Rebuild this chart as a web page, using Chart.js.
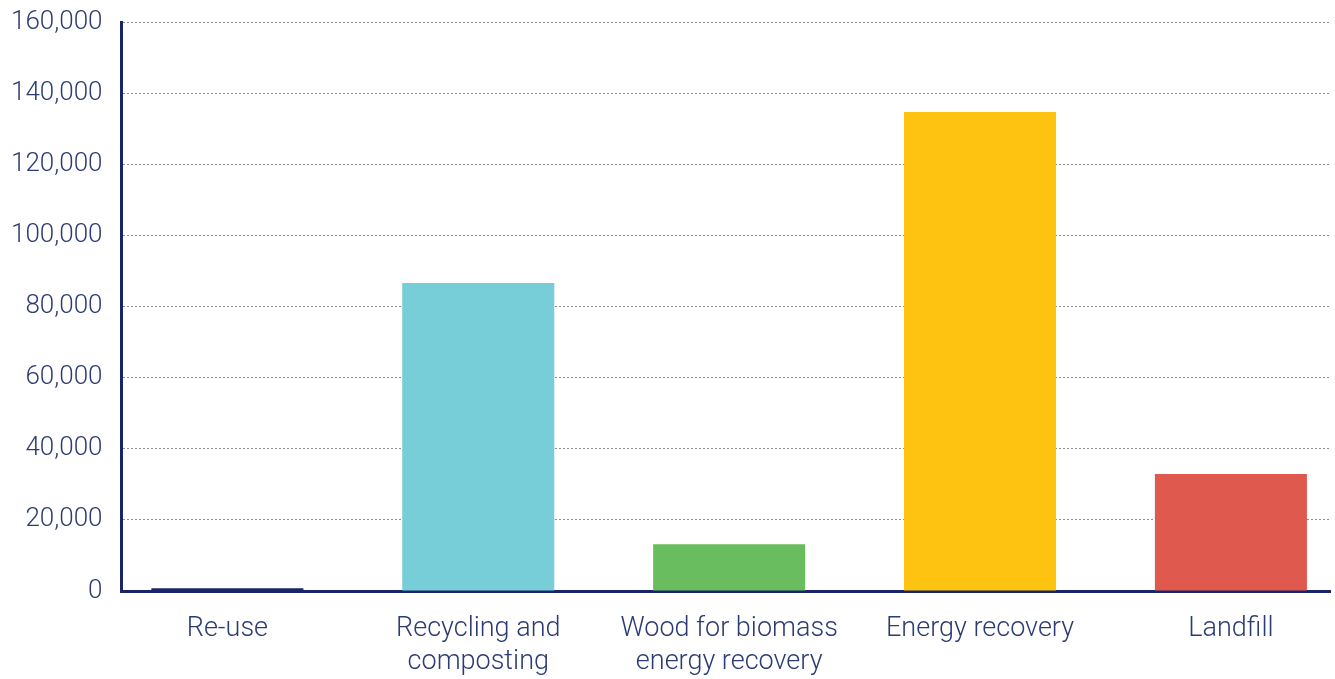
<!DOCTYPE html>
<html>
<head>
<meta charset="utf-8">
<script src="https://cdn.jsdelivr.net/npm/chart.js@4"></script>
<style>
html,body{margin:0;padding:0;background:#fff;}
#wrap{width:1335px;height:679px;}
</style>
</head>
<body>
<div id="wrap"><canvas id="c" width="1335" height="679"></canvas></div>
<script>
const categories = [["Re-use"], ["Recycling and", "composting"], ["Wood for biomass", "energy recovery"], ["Energy recovery"], ["Landfill"]];
const values = [800, 86600, 13200, 134700, 32900];
const barColors = ["#1b2467", "#77ced8", "#6abd5f", "#fec210", "#df594f"];
const yTicks = [0, 20000, 40000, 60000, 80000, 100000, 120000, 140000, 160000];

const navy = "#1b2467";
const labelColor = "#2c3b73";
const fontFamily = "Roboto, 'Noto Sans', sans-serif";

new Chart(document.getElementById('c'), {
  type: 'bar',
  data: {
    datasets: [{
      data: values.map((v, i) => ({x: i, y: v})),
      backgroundColor: barColors,
      borderWidth: 0,
      categoryPercentage: 1,
      barPercentage: 0.606
    }]
  },
  options: {
    responsive: false,
    animation: false,
    layout: {padding: {left: -8, right: 5, top: 22, bottom: -22}},
    plugins: {legend: {display: false}, tooltip: {enabled: false}},
    scales: {
      x: {
        type: 'linear',
        offset: false,
        min: -0.422,
        max: 4.395,
        afterBuildTicks: (axis) => { axis.ticks = categories.map((_, i) => ({value: i})); },
        grid: {display: false, drawTicks: false},
        border: {display: true, color: navy, width: 3},
        ticks: {
          autoSkip: false,
          maxRotation: 0,
          padding: 22,
          color: labelColor,
          font: {family: fontFamily, size: 27, weight: 300, lineHeight: 1.22},
          callback: (v) => categories[v] || ''
        }
      },
      y: {
        min: 0,
        max: 160000,
        afterBuildTicks: (axis) => { axis.ticks = yTicks.map(v => ({value: v})); },
        afterFit: (axis) => { axis.paddingTop = 0; },
        grid: {color: '#8c8c8c', lineWidth: 1, drawTicks: false},
        border: {display: true, color: navy, width: 3, dash: [2, 2]},
        ticks: {
          padding: 19,
          color: labelColor,
          font: {family: fontFamily, size: 26, weight: 300},
          callback: (v) => v.toLocaleString('en-US')
        }
      }
    }
  }
});
</script>
</body>
</html>
